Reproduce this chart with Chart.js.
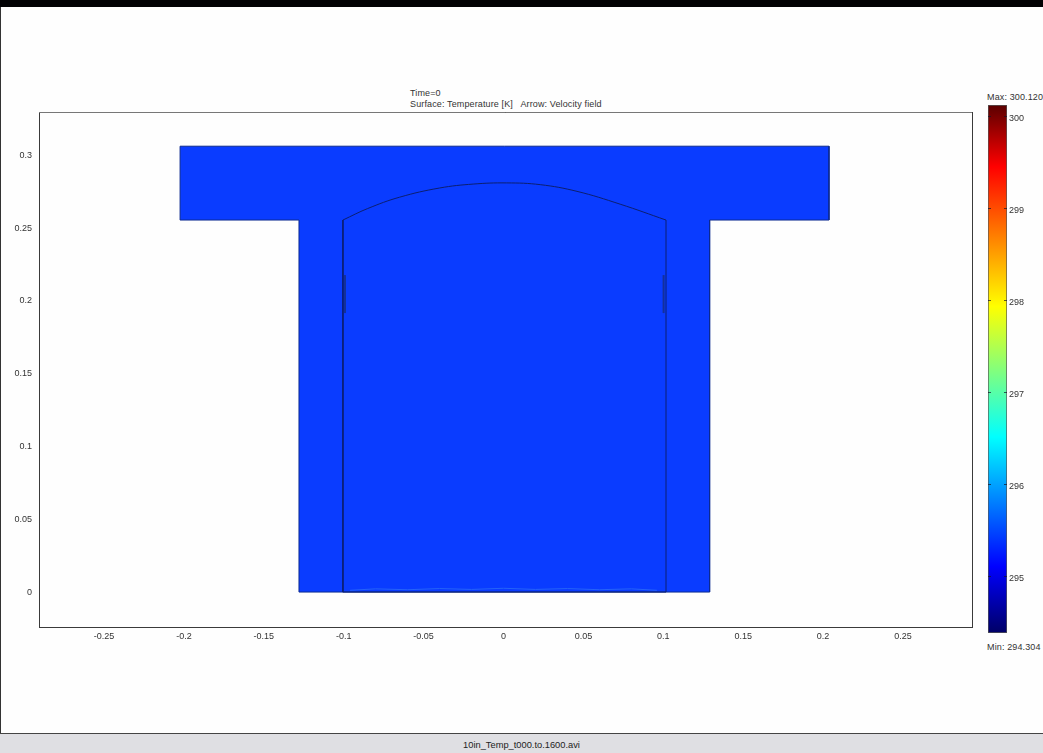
<!DOCTYPE html>
<html>
<head>
<meta charset="utf-8">
<title>10in_Temp_t000.to.1600.avi</title>
<script src="https://cdn.jsdelivr.net/npm/chart.js@4/dist/chart.umd.min.js"></script>
<style>
html, body { margin: 0; padding: 0; width: 1043px; height: 753px; overflow: hidden; background: #fefefe; font-family: "Liberation Sans", sans-serif; color: #333; }
canvas { position: absolute; }
.topbar { position: absolute; left: 0; top: 0; width: 1043px; height: 7px; background: #020204; }
.leftline { position: absolute; left: 0; top: 7px; width: 1px; height: 726px; background: #333; }
.statusbar { position: absolute; left: 0; top: 733px; width: 1043px; height: 20px; box-sizing: border-box; background: #dfdfe3; border-top: 1px solid #444; text-align: center; font-size: 9.3px; line-height: 23px; color: #222; }
.txt { position: absolute; font-size: 9px; line-height: 11px; white-space: pre; letter-spacing: 0.13px; }
</style>
</head>
<body>
<div class="topbar"></div>
<div class="leftline"></div>
<div class="txt" style="left:410px;top:88px">Time=0
Surface: Temperature [K]   Arrow: Velocity field</div>
<div class="txt" style="left:987px;top:92px">Max: 300.120</div>
<div class="txt" style="left:987px;top:642px">Min: 294.304</div>
<canvas id="main-chart" width="1043" height="753" style="left:0;top:0"></canvas>
<canvas id="bar-chart" width="68" height="548" style="left:975px;top:95px"></canvas>
<div class="statusbar">10in_Temp_t000.to.1600.avi</div>
<script>
// tick labels
var xTicks = [-0.25, -0.2, -0.15, -0.1, -0.05, 0, 0.05, 0.1, 0.15, 0.2, 0.25];
var yTicks = [0, 0.05, 0.1, 0.15, 0.2, 0.25, 0.3];
var tempTicks = [295, 296, 297, 298, 299, 300];

// T shaped domain outline
var outerX = [-0.128, -0.128, -0.2024, -0.2024, 0.2037, 0.2037, 0.129, 0.129, -0.128];
var outerY = [0, 0.2555, 0.2555, 0.3062, 0.3062, 0.2555, 0.2555, 0, 0];

// fills: top arm and stem of the T
var armX = [-0.2024, 0.2037];
var armTop = [0.3062, 0.3062];
var armBottom = 0.2555;
var stemX = [-0.128, 0.129];
var stemTop = [0.2555, 0.2555];
var stemBottom = 0;

// inner chamber walls and floor
var wallX = [-0.1005, -0.1005, 0.1017, 0.1017];
var wallY = [0.2555, 0, 0, 0.2555];

// dome on top of the chamber
var domeX = [-0.1005, -0.085, -0.065, -0.04, -0.019, 0.002, 0.023, 0.046, 0.073, 0.1017];
var domeY = [0.2555, 0.2634, 0.2712, 0.2775, 0.2802, 0.281, 0.2798, 0.2752, 0.2664, 0.2555];

// the two small slits on the chamber walls
var slitLeftX = [-0.0992, -0.0992];
var slitRightX = [0.1002, 0.1002];
var slitY = [0.1916, 0.2177];

// pale streak along the chamber floor
var streakX = [-0.096, -0.08, -0.06, -0.04, -0.02, 0, 0.02, 0.04, 0.06, 0.08, 0.096];
var streakY = [0.0012, 0.0022, 0.0016, 0.0024, 0.0018, 0.0026, 0.0018, 0.0024, 0.0016, 0.0022, 0.0012];

// colour bar
var barMin = 294.39;
var barMax = 300.13;
var stopTemps = [300.13, 299.46, 297.94, 296.52, 295.11, 294.39];
var stopColors = ['#5a0000', '#ff0000', '#ffff00', '#00ffff', '#0000ff', '#000066'];

function pts(xs, ys) {
    return xs.map(function (x, i) { return { x: x, y: ys[i] }; });
}

function shortNum(v) {
    return String(Math.round(v * 100) / 100);
}

var frame = {
    id: 'frame',
    beforeDatasetsDraw: function (chart) {
        var a = chart.chartArea, c = chart.ctx;
        c.save();
        c.lineWidth = 1;
        c.strokeStyle = '#3a3a3a';
        c.strokeRect(a.left + 0.5, a.top + 0.5, a.right - a.left, a.bottom - a.top);
        c.strokeStyle = '#777';
        c.beginPath();
        c.moveTo(a.left, a.top + 0.5);
        c.lineTo(a.right, a.top + 0.5);
        c.stroke();
        c.restore();
    }
};

new Chart(document.getElementById('main-chart'), {
    type: 'scatter',
    plugins: [frame],
    data: {
        datasets: [{
            data: pts(streakX, streakY),
            showLine: true, borderColor: '#2563f8', borderWidth: 1, pointRadius: 0, order: 0
        }, {
            data: pts(slitLeftX, slitY),
            showLine: true, borderColor: '#14309a', borderWidth: 2, pointRadius: 0, order: 1
        }, {
            data: pts(slitRightX, slitY),
            showLine: true, borderColor: '#14309a', borderWidth: 2, pointRadius: 0, order: 1
        }, {
            data: pts(wallX, wallY),
            showLine: true, borderColor: '#0c1f70', borderWidth: 1, pointRadius: 0, order: 2
        }, {
            data: pts(domeX, domeY),
            showLine: true, tension: 0.4, borderColor: '#0c1f70', borderWidth: 1, pointRadius: 0, order: 2
        }, {
            data: pts(outerX, outerY),
            showLine: true, borderColor: '#0c2a90', borderWidth: 1, pointRadius: 0, order: 3
        }, {
            data: pts(armX, armTop),
            showLine: true, fill: { value: armBottom }, backgroundColor: '#0a3cff', borderWidth: 0, pointRadius: 0, order: 4
        }, {
            data: pts(stemX, stemTop),
            showLine: true, fill: { value: stemBottom }, backgroundColor: '#0a3cff', borderWidth: 0, pointRadius: 0, order: 4
        }]
    },
    options: {
        responsive: false,
        animation: false,
        layout: { padding: { left: 0, right: 71, top: 112, bottom: 106 } },
        plugins: { legend: { display: false }, tooltip: { enabled: false } },
        scales: {
            x: {
                type: 'linear',
                min: -0.2907,
                max: 0.2932,
                grid: { display: false, drawTicks: false },
                border: { display: false },
                afterBuildTicks: function (s) { s.ticks = xTicks.map(function (v) { return { value: v }; }); },
                afterFit: function (s) { s.height = 20; },
                ticks: {
                    padding: 4, maxRotation: 0, autoSkip: false, color: '#333',
                    font: { family: 'Liberation Sans', size: 9 },
                    callback: shortNum
                }
            },
            y: {
                type: 'linear',
                min: -0.024,
                max: 0.3297,
                grid: { display: false, drawTicks: false },
                border: { display: false },
                afterBuildTicks: function (s) { s.ticks = yTicks.map(function (v) { return { value: v }; }); },
                afterFit: function (s) { s.width = 39; },
                ticks: {
                    padding: 7, autoSkip: false, color: '#333',
                    font: { family: 'Liberation Sans', size: 9 },
                    callback: shortNum
                }
            }
        }
    }
});

new Chart(document.getElementById('bar-chart'), {
    type: 'bar',
    data: {
        labels: [''],
        datasets: [{
            data: [[barMin, barMax]],
            barPercentage: 1,
            categoryPercentage: 1,
            borderColor: '#555',
            borderWidth: 1,
            borderSkipped: false,
            backgroundColor: function (ctx) {
                var s = ctx.chart.scales.y;
                if (!s || !ctx.chart.chartArea) { return stopColors[0]; }
                var top = s.getPixelForValue(barMax), bottom = s.getPixelForValue(barMin);
                var g = ctx.chart.ctx.createLinearGradient(0, top, 0, bottom);
                stopTemps.forEach(function (t, i) {
                    g.addColorStop((s.getPixelForValue(t) - top) / (bottom - top), stopColors[i]);
                });
                return g;
            }
        }]
    },
    options: {
        responsive: false,
        animation: false,
        layout: { padding: { left: 13, right: 0, top: 10, bottom: 10 } },
        plugins: { legend: { display: false }, tooltip: { enabled: false } },
        scales: {
            x: { display: false },
            y: {
                position: 'right',
                min: barMin,
                max: barMax,
                afterBuildTicks: function (s) { s.ticks = tempTicks.map(function (v) { return { value: v }; }); },
                afterFit: function (s) { s.width = 36; },
                grid: { z: 1, color: 'rgba(20,20,40,0.7)', drawTicks: false },
                border: { display: false, dash: [3, 13, 3] },
                ticks: {
                    padding: 2, labelOffset: 2, color: '#333',
                    font: { family: 'Liberation Sans', size: 9 }
                }
            }
        }
    }
});
</script>
</body>
</html>
